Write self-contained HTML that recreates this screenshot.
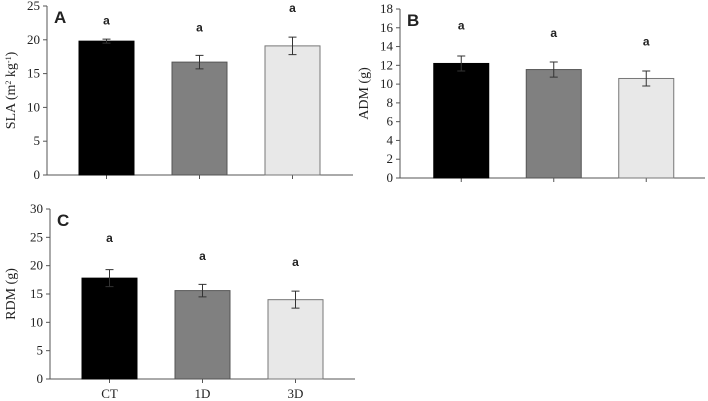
<!DOCTYPE html>
<html><head><meta charset="utf-8"><style>
body{margin:0;background:#fff}
svg{display:block}
.t{font-family:"Liberation Serif",serif;font-size:13px;fill:#222}
.yt{font-family:"Liberation Serif",serif;font-size:14px;fill:#222}
.s{font-family:"Liberation Sans",sans-serif;font-weight:bold;fill:#222}
</style></head><body>
<svg id="c" width="708" height="401"></svg>
<script>
const categories=["CT","1D","3D"];
const slaValues=[19.8,16.7,19.1];
const slaErrors=[0.3,1.0,1.3];
const slaLetterY=[22.3,21.2,24.1];
const admValues=[12.2,11.55,10.6];
const admErrors=[0.8,0.8,0.8];
const admLetterY=[15.8,15.0,14.1];
const rdmValues=[17.8,15.6,14.0];
const rdmErrors=[1.5,1.1,1.5];
const rdmLetterY=[24.2,21.0,19.9];
const slaTicks=[0,5,10,15,20,25];
const admTicks=[0,2,4,6,8,10,12,14,16,18];
const rdmTicks=[0,5,10,15,20,25,30];
const sigLetters=["a","a","a"];
const fills=["#000","#808080","#e8e8e8"];
const strokes=["#000","#555","#777"];
const NS="http://www.w3.org/2000/svg";
const svg=document.getElementById('c');
function mk(t,a,p){const e=document.createElementNS(NS,t);for(const k in a)e.setAttribute(k,a[k]);(p||svg).appendChild(e);return e;}
function panel(cfg){
  const g=mk('g',{});
  
  
  const max=cfg.ticks[cfg.ticks.length-1];
  const y=v=>cfg.y0-(cfg.y0-cfg.yTop)*v/max;
  const x=i=>cfg.x0+cfg.step*(i+0.5);
  const ax=mk('line',{x1:cfg.ax,y1:cfg.yTop,x2:cfg.ax,y2:cfg.y0,stroke:'#555'},g);
  
  
  const xa=mk('line',{x1:cfg.ax,y1:cfg.y0,x2:cfg.xEnd,y2:cfg.y0,stroke:'#555'},g);
  
  
  cfg.ticks.forEach(t=>{
    mk('line',{x1:cfg.ax-4,y1:y(t),x2:cfg.ax,y2:y(t),stroke:'#555'},g);
    const tl=mk('text',{x:cfg.ax-7,y:y(t)+4,'text-anchor':'end',class:'t'},g);
    tl.textContent=t;
    
    
  });
  cfg.values.forEach((v,i)=>{
    const cx=x(i),w=55;
    mk('line',{x1:cx,y1:cfg.y0,x2:cx,y2:cfg.y0+4,stroke:'#555'},g);
    const b=mk('rect',{x:cx-w/2,y:y(v),width:w,height:cfg.y0-y(v),fill:fills[i],stroke:strokes[i]},g);
    
    
    const e=cfg.errs[i];
    const eb=mk('path',{d:`M${cx},${y(v+e)}V${y(v-e)}M${cx-4},${y(v+e)}H${cx+4}M${cx-4},${y(v-e)}H${cx+4}`,stroke:'#333',fill:'none'},g);
    
    
    const l=mk('text',{x:cx,y:y(cfg.letterY[i]),'text-anchor':'middle',class:'s','font-size':'12'},g);
    l.textContent=sigLetters[i];
    
    
    if(cfg.xlabels){const xl=mk('text',{x:cx,y:cfg.y0+19,'text-anchor':'middle',class:'t'},g);
      xl.textContent=categories[i];
      
      }
  });
  const pl=mk('text',{x:cfg.ax+7,y:cfg.yTop+17,class:'s','font-size':'17'},g);
  pl.textContent=cfg.letter;
  
  
  const yc=(cfg.y0+cfg.yTop)/2;
  const yt=mk('text',{x:cfg.titleX,y:yc,'text-anchor':'middle',class:'yt',transform:`rotate(-90 ${cfg.titleX} ${yc})`},g);
  yt.innerHTML=cfg.title;
  
  
}
panel({name:'panel-a-sla',letter:'A',ax:47,x0:60,step:93,xEnd:353,y0:175,yTop:6,ticks:slaTicks,values:slaValues,errs:slaErrors,letterY:slaLetterY,titleX:15,title:'SLA (m<tspan font-size="8" dy="-4">2</tspan><tspan dy="4"> kg</tspan><tspan font-size="8" dy="-4">-1</tspan><tspan dy="4">)</tspan>'});
panel({name:'panel-b-adm',letter:'B',ax:400,x0:415,step:92.5,xEnd:705,y0:178,yTop:9,ticks:admTicks,values:admValues,errs:admErrors,letterY:admLetterY,titleX:368,title:'ADM (g)'});
panel({name:'panel-c-rdm',letter:'C',ax:50,x0:63,step:93,xEnd:355,y0:379,yTop:209,ticks:rdmTicks,values:rdmValues,errs:rdmErrors,letterY:rdmLetterY,titleX:15,title:'RDM (g)',xlabels:true});
</script>
</body></html>
